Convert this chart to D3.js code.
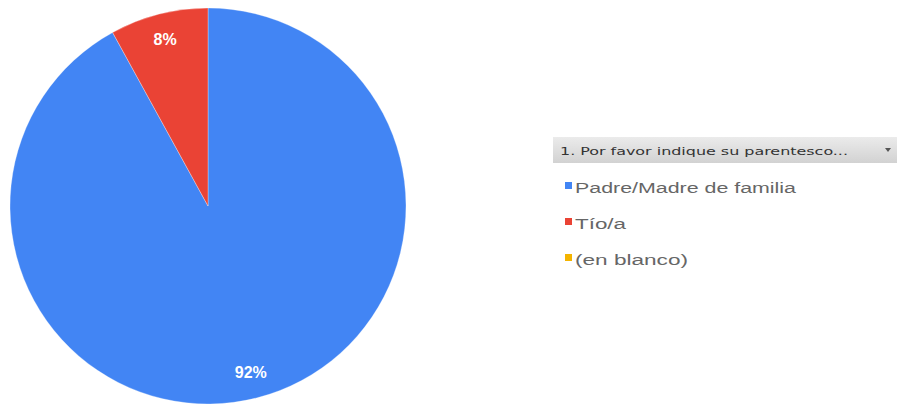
<!DOCTYPE html>
<html>
<head>
<meta charset="utf-8">
<script src="https://cdn.jsdelivr.net/npm/d3@7"></script>
<style>
  html, body { margin: 0; padding: 0; background: #fff; }
  svg { display: block; }
</style>
</head>
<body>
<svg id="chart" width="897" height="406"></svg>
<script>
// Answers to "1. Por favor indique su parentesco..."
const categories = ["Padre/Madre de familia", "Tío/a", "(en blanco)"];
const shares = [92, 8, 0];
const colors = ["#4285f4", "#ea4335", "#f4b400"];
const legendTitle = "1. Por favor indique su parentesco...";

const svg = d3.select("#chart");
const cx = 208, cy = 206, R = 198;

const data = categories.map((c, i) => ({ name: c, value: shares[i], color: colors[i] }));

const pie = d3.pie().value(d => d.value).sort(null);
const arc = d3.arc().innerRadius(0).outerRadius(R);
const labelArc = d3.arc().innerRadius(R * 0.87).outerRadius(R * 0.87);

const g = svg.append("g").attr("transform", `translate(${cx},${cy})`);
const arcs = pie(data).filter(d => d.data.value > 0);

g.selectAll("path.slice")
  .data(arcs)
  .enter().append("path")
  .attr("class", "slice")
  .attr("d", arc)
  .attr("fill", d => d.data.color)
  .attr("stroke", "#ffffff")
  .attr("stroke-opacity", 0.5)
  .attr("stroke-width", 0.6);

g.selectAll("text.pct")
  .data(arcs)
  .enter().append("text")
  .attr("class", "pct")
  .attr("transform", d => `translate(${labelArc.centroid(d)})`)
  .attr("text-anchor", "middle")
  .attr("dy", "0.35em")
  .attr("fill", "#ffffff")
  .attr("font-family", "'Liberation Sans', Arial, sans-serif")
  .attr("font-weight", "bold")
  .attr("font-size", 16)
  .text(d => d.data.value + "%");

// Legend panel with a filter-style header
const defs = svg.append("defs");
const grad = defs.append("linearGradient").attr("id", "hdr").attr("x1", 0).attr("y1", 0).attr("x2", 0).attr("y2", 1);
grad.append("stop").attr("offset", "0%").attr("stop-color", "#ebebeb");
grad.append("stop").attr("offset", "100%").attr("stop-color", "#d2d2d2");

const lg = svg.append("g");
lg.append("rect")
  .attr("x", 553).attr("y", 137).attr("width", 344).attr("height", 26)
  .attr("fill", "url(#hdr)");
lg.append("text")
  .attr("x", 560).attr("y", 155)
  .attr("font-family", "Tahoma, 'DejaVu Sans Condensed', 'DejaVu Sans', sans-serif")
  .attr("font-size", 11)
  .attr("fill", "#333")
  .attr("textLength", 288)
  .attr("lengthAdjust", "spacingAndGlyphs")
  .text(legendTitle);
lg.append("path")
  .attr("d", "M885,148 L891,148 L888,152 Z")
  .attr("fill", "#555");

const rowY = [193, 229, 265];
const textLens = [221, 51, 113];
const rows = lg.selectAll("g.item")
  .data(data)
  .enter().append("g")
  .attr("class", "item")
  .attr("transform", (d, i) => `translate(0,${rowY[i]})`);

rows.append("rect")
  .attr("x", 565).attr("y", -11).attr("width", 7).attr("height", 7)
  .attr("fill", d => d.color);

rows.append("text")
  .attr("x", 575).attr("y", 0)
  .attr("font-family", "'Liberation Sans', Arial, sans-serif")
  .attr("font-size", 14)
  .attr("fill", "#666")
  .attr("textLength", (d, i) => textLens[i])
  .attr("lengthAdjust", "spacingAndGlyphs")
  .text(d => d.name);
</script>
</body>
</html>
